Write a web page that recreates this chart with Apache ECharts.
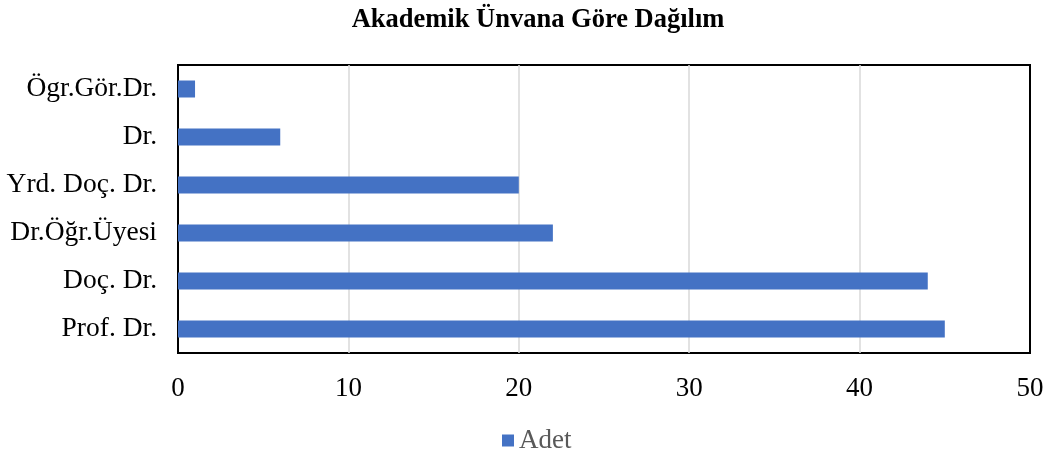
<!DOCTYPE html>
<html><head><meta charset="utf-8">
<script src="https://cdn.jsdelivr.net/npm/echarts@6/dist/echarts.min.js"></script>
<style>html,body{margin:0;padding:0;background:#fff}#c{width:1049px;height:457px}</style>
</head><body><div id="c"></div>
<script>
const categories = ['Prof. Dr.', 'Doç. Dr.', 'Dr.Öğr.Üyesi', 'Yrd. Doç. Dr.', 'Dr.', 'Ögr.Gör.Dr.'];
const adet = [45, 44, 22, 20, 6, 1];
const seriesName = 'Adet';
const titleText = 'Akademik Ünvana Göre Dağılım';
const serif = '"Liberation Serif", "Times New Roman", serif';
const chart = echarts.init(document.getElementById('c'));
chart.setOption({
  animation: false,
  title: { text: titleText, left: 533, textAlign: 'center', top: 2,
    textStyle: { fontFamily: serif, fontWeight: 'bold', fontSize: 26.5, color: '#000' } },
  legend: { top: 422, left: 497, itemWidth: 12, itemHeight: 12, itemGap: 6,
    icon: 'rect', data: [seriesName],
    textStyle: { fontFamily: serif, fontSize: 27, color: '#595959' } },
  grid: { left: 178, right: 19, top: 65, bottom: 104, show: true,
    borderColor: '#000', borderWidth: 2, backgroundColor: 'transparent' },
  xAxis: { type: 'value', min: 0, max: 50, interval: 10,
    axisLine: { show: false }, axisTick: { show: false },
    splitLine: { show: true, showMinLine: false, showMaxLine: false, lineStyle: { color: '#d9d9d9', width: 1.5 } },
    axisLabel: { fontFamily: serif, fontSize: 27, color: '#000', margin: 22 } },
  yAxis: { type: 'category', data: categories,
    axisLine: { show: false }, axisTick: { show: false },
    axisLabel: { fontFamily: serif, fontSize: 27.5, color: '#000', margin: 21 } },
  series: [{ name: seriesName, type: 'bar', data: adet, barWidth: 17,
    itemStyle: { color: '#4472c4' } }]
});
</script></body></html>
